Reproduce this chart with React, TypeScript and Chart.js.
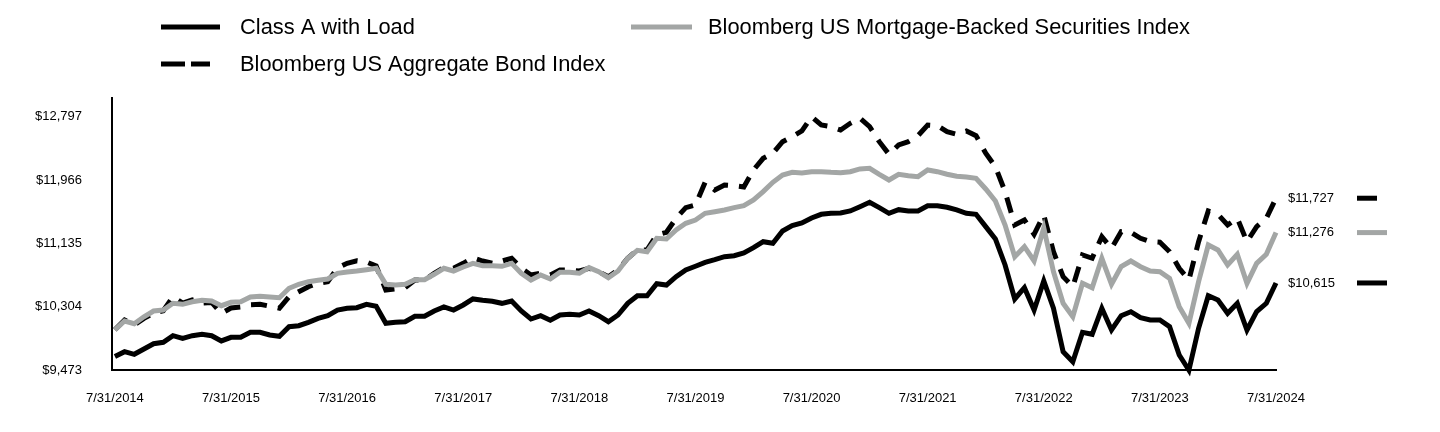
import React, { useEffect, useRef } from "react";
import { Chart, registerables } from "chart.js";

Chart.register(...registerables);

const FONT = "'Liberation Sans', Arial, Helvetica, sans-serif";

const seriesNames = [
  "Class A with Load",
  "Bloomberg US Mortgage-Backed Securities Index",
  "Bloomberg US Aggregate Bond Index",
];

// month index 0 = 7/31/2014 ... 120 = 7/31/2024
const monthIndex: number[] = Array.from({ length: 121 }, (_, i) => i);

const xTickLabels = [
  "7/31/2014", "7/31/2015", "7/31/2016", "7/31/2017", "7/31/2018", "7/31/2019",
  "7/31/2020", "7/31/2021", "7/31/2022", "7/31/2023", "7/31/2024",
];

const yTicks = [9473, 10304, 11135, 11966, 12797];

const classA = [
  9650, 9713, 9679, 9749, 9818, 9837, 9923, 9889, 9923, 9942,
  9923, 9854, 9902, 9902, 9968, 9968, 9932, 9915, 10041, 10054,
  10099, 10151, 10186, 10260, 10283, 10291, 10335, 10309, 10086, 10099,
  10107, 10178, 10178, 10247, 10300, 10260, 10326, 10405, 10388, 10375,
  10348, 10379, 10247, 10142, 10186, 10125, 10195, 10204, 10195, 10247,
  10186, 10107, 10195, 10348, 10448, 10448, 10606, 10588, 10697, 10785,
  10834, 10886, 10920, 10960, 10973, 11008, 11078, 11157, 11136, 11297,
  11367, 11402, 11468, 11516, 11529, 11533, 11560, 11616, 11674, 11603,
  11529, 11577, 11560, 11560, 11629, 11629, 11608, 11573, 11529, 11516,
  11354, 11192, 10851, 10405, 10553, 10260, 10641, 10283, 9713, 9582,
  9968, 9942, 10283, 9998, 10186, 10238, 10159, 10129, 10129, 10041,
  9670, 9470, 10020, 10448, 10392, 10217, 10348, 9998, 10238, 10348,
  10615,
];

const mbsIndex = [
  10000, 10116, 10081, 10172, 10247, 10260, 10348, 10335, 10369, 10388,
  10379, 10317, 10361, 10369, 10431, 10440, 10431, 10422, 10545, 10598,
  10632, 10650, 10667, 10742, 10759, 10772, 10789, 10808, 10598, 10588,
  10598, 10658, 10658, 10729, 10808, 10772, 10825, 10873, 10842, 10842,
  10834, 10873, 10742, 10654, 10720, 10667, 10755, 10755, 10742, 10816,
  10763, 10684, 10772, 10939, 11044, 11025, 11201, 11192, 11310, 11398,
  11441, 11529, 11550, 11573, 11603, 11629, 11704, 11813, 11936, 12032,
  12067, 12058, 12075, 12075, 12067, 12062, 12075, 12111, 12120, 12041,
  11966, 12041, 12023, 12010, 12098, 12075, 12041, 12015, 12006, 11989,
  11848, 11691, 11376, 10960, 11091, 10903, 11337, 10763, 10348, 10172,
  10611, 10553, 10939, 10598, 10829, 10903, 10829, 10772, 10763, 10676,
  10304, 10086, 10632, 11113, 11048, 10851, 10991, 10611, 10873, 10991,
  11276,
];

const aggIndex = [
  10000, 10129, 10063, 10150, 10220, 10250, 10435, 10352, 10392, 10352,
  10360, 10217, 10287, 10300, 10330, 10335, 10310, 10283, 10435, 10500,
  10566, 10611, 10632, 10811, 10873, 10907, 10890, 10838, 10523, 10536,
  10553, 10654, 10650, 10742, 10816, 10808, 10873, 10947, 10903, 10873,
  10903, 10939, 10808, 10720, 10742, 10720, 10785, 10785, 10772, 10808,
  10763, 10697, 10785, 10939, 11048, 11048, 11245, 11280, 11464, 11603,
  11638, 11936, 11835, 11901, 11892, 11875, 12098, 12251, 12317, 12469,
  12535, 12609, 12797, 12688, 12666, 12622, 12710, 12776, 12666, 12469,
  12304, 12426, 12469, 12548, 12688, 12679, 12600, 12566, 12609, 12548,
  12317, 12141, 11813, 11376, 11441, 11254, 11507, 11025, 10697, 10566,
  10982, 10939, 11222, 11070, 11288, 11280, 11201, 11157, 11149, 11025,
  10808, 10654, 11157, 11560, 11516, 11376, 11464, 11157, 11354, 11464,
  11727,
];

const BLACK = "#000000";
const GREY = "#A3A6A5";
const CHART_DASH = [16, 11];

const fmt = (v: number) => "$" + Math.round(v).toLocaleString("en-US");
const toPoints = (vals: number[]) => vals.map((v, i) => ({ x: monthIndex[i], y: v }));

const overlayPlugin = {
  id: "overlay",
  afterDraw(chart: any) {
    const ctx = chart.ctx as CanvasRenderingContext2D;
    ctx.save();
    const drawSample = (x1: number, x2: number, y: number, color: string, dash: number[]) => {
      ctx.beginPath();
      ctx.setLineDash(dash);
      ctx.lineCap = "butt";
      ctx.lineWidth = 5;
      ctx.strokeStyle = color;
      ctx.moveTo(x1, y);
      ctx.lineTo(x2, y);
      ctx.stroke();
      ctx.setLineDash([]);
    };
    ctx.font = `21.85px ${FONT}`;
    ctx.fillStyle = "#000";
    ctx.textBaseline = "middle";
    ctx.textAlign = "left";
    drawSample(161, 220, 27, BLACK, []);
    ctx.fillText(seriesNames[0], 240, 28);
    drawSample(631, 692, 27, GREY, []);
    ctx.fillText(seriesNames[1], 708, 28);
    drawSample(161, 210, 64, BLACK, [24, 6]);
    ctx.fillText(seriesNames[2], 240, 65);

    const yScale = chart.scales.y;
    const ends = [
      { v: aggIndex[aggIndex.length - 1], color: BLACK, len: 20 },
      { v: mbsIndex[mbsIndex.length - 1], color: GREY, len: 30 },
      { v: classA[classA.length - 1], color: BLACK, len: 30 },
    ];
    ctx.font = `13px ${FONT}`;
    ends.forEach((e) => {
      const y = yScale.getPixelForValue(e.v);
      ctx.fillStyle = "#000";
      ctx.fillText(fmt(e.v), 1288, y);
      drawSample(1357, 1357 + e.len, y, e.color, []);
    });
    ctx.restore();
  },
};

export default function App() {
  const ref = useRef<HTMLCanvasElement | null>(null);

  useEffect(() => {
    if (!ref.current) return;
    Chart.defaults.font.family = FONT;
    const common = { borderWidth: 5, pointRadius: 0, tension: 0, fill: false, clip: false as any };
    const chart = new Chart(ref.current, {
      type: "line",
      data: {
        datasets: [
          { ...common, label: seriesNames[0], data: toPoints(classA), borderColor: BLACK, order: 1 },
          { ...common, label: seriesNames[1], data: toPoints(mbsIndex), borderColor: GREY, order: 2 },
          {
            ...common,
            label: seriesNames[2],
            data: toPoints(aggIndex),
            borderColor: BLACK,
            borderDash: CHART_DASH,
            order: 3,
          },
        ],
      },
      options: {
        responsive: false,
        animation: false,
        devicePixelRatio: 1,
        layout: { padding: { left: 0, right: 164, top: 98, bottom: 0 } },
        plugins: {
          legend: { display: false },
          tooltip: { enabled: false },
          title: { display: false },
        },
        scales: {
          x: {
            type: "linear",
            min: -0.3,
            max: 120,
            grid: { display: false, drawTicks: false },
            border: { display: true, color: "#000", width: 2 },
            afterBuildTicks: (scale: any) => {
              scale.ticks = xTickLabels.map((_, k) => ({ value: k * 12 }));
            },
            afterFit: (scale: any) => {
              scale.height = 62;
            },
            ticks: {
              autoSkip: false,
              maxRotation: 0,
              minRotation: 0,
              padding: 21,
              color: "#000",
              font: { size: 13, family: FONT },
              callback: (value: any) => xTickLabels[Math.round(Number(value) / 12)] ?? "",
            },
          },
          y: {
            type: "linear",
            min: 9473,
            max: 13042,
            grid: { display: false, drawTicks: false },
            border: { display: true, color: "#000", width: 2 },
            afterBuildTicks: (scale: any) => {
              scale.ticks = yTicks.map((v) => ({ value: v }));
            },
            afterFit: (scale: any) => {
              scale.width = 112;
            },
            ticks: {
              padding: 30,
              color: "#000",
              font: { size: 13, family: FONT },
              callback: (value: any) => fmt(Number(value)),
            },
          },
        },
      },
      plugins: [overlayPlugin],
    });
    return () => chart.destroy();
  }, []);

  return (
    <div style={{ position: "absolute", left: 0, top: 0, width: 1440, height: 432, background: "#fff" }}>
      <canvas ref={ref} width={1440} height={432} style={{ display: "block", width: 1440, height: 432 }} />
    </div>
  );
}
